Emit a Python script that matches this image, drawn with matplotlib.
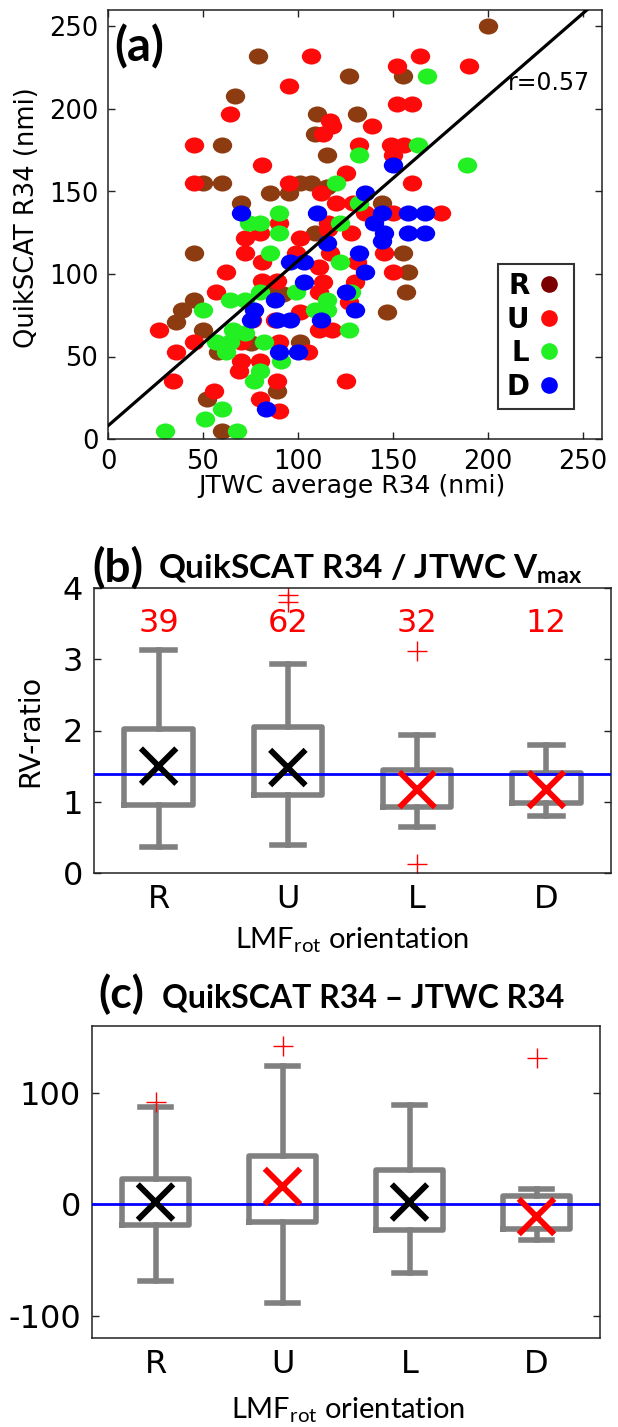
import matplotlib
matplotlib.use("Agg")
import matplotlib.pyplot as plt
from matplotlib.lines import Line2D
from matplotlib.path import Path
from matplotlib.transforms import Affine2D

plt.rcParams['font.family'] = ['DejaVu Sans']
plt.rcParams['axes.unicode_minus'] = False
plt.rcParams['mathtext.fontset'] = 'custom'
plt.rcParams['mathtext.rm'] = 'Lato'
plt.rcParams['mathtext.bf'] = 'Lato:bold'

# ---- panel (a) data: JTWC average R34 vs QuikSCAT R34 (nmi) ----
R_x = [200, 79, 127, 155, 67, 110, 131, 109, 60, 115, 50, 60, 85, 95, 101, 107, 70, 144, 109,
       45, 155, 158, 157, 45, 39, 36, 50, 147, 58, 101, 92, 89, 52, 60, 75, 115, 87]
R_y = [250, 232, 220, 220, 208, 197, 197, 185, 178, 172, 155, 155, 149, 149, 155, 155, 143, 143,
       125, 113, 113, 101, 89, 84, 78, 71, 66, 77, 53, 59, 88, 29, 24, 5, 58, 153, 92]
U_x = [107, 164, 190, 152, 95, 152, 160, 64, 117, 139, 118, 113, 45, 132, 149, 156, 150, 81, 125,
       160, 45, 95, 112, 120, 129, 135, 150, 175, 90, 116, 72, 72, 101, 116, 128, 80, 81, 99, 117,
       145, 62, 150, 111, 131, 57, 81, 89, 113, 130, 111, 127, 27, 45, 36, 34, 125, 70, 76, 88,
       101, 111, 118, 90, 105, 70, 80, 69, 89, 56, 80, 90]
U_y = [232, 232, 226, 226, 214, 203, 203, 197, 193, 190, 190, 185, 178, 178, 178, 178, 172, 166,
       161, 155, 155, 155, 149, 143, 143, 137, 137, 137, 131, 131, 122, 113, 122, 127, 125, 125,
       107, 113, 113, 113, 101, 101, 104, 107, 89, 96, 96, 95, 95, 89, 83, 66, 59, 53, 35, 35, 59,
       72, 72, 77, 66, 66, 59, 53, 47, 47, 41, 35, 29, 24, 17]
L_x = [168, 163, 189, 132, 120, 132, 90, 80, 74, 122, 90, 85, 122, 99, 80, 128, 64, 72, 50, 115,
       109, 115, 66, 72, 57, 64, 62, 82, 127, 91, 80, 77, 60, 51, 30, 68]
L_y = [220, 178, 166, 172, 155, 143, 137, 131, 131, 131, 125, 113, 107, 89, 89, 89, 84, 84, 78,
       84, 78, 78, 66, 64, 59, 59, 53, 59, 66, 47, 41, 35, 18, 12, 5, 5]
D_x = [150, 135, 70, 110, 144, 158, 167, 140, 145, 158, 167, 144, 115, 132, 96, 103, 103, 135,
       125, 88, 77, 130, 75, 89, 96, 112, 90, 100, 83]
D_y = [166, 149, 137, 137, 137, 137, 137, 131, 125, 125, 125, 120, 119, 113, 107, 107, 95, 101,
       89, 84, 78, 78, 72, 72, 72, 72, 53, 53, 18]
fit_slope = 1.0
fit_intercept = 8.0
r_value = 0.57

# ---- panels (b) and (c): box statistics by LMF_rot orientation ----
orient = ['R', 'U', 'L', 'D']
counts = [39, 62, 32, 12]

b_low = [0.37, 0.40, 0.65, 0.80]
b_q1 = [0.95, 1.09, 0.92, 0.98]
b_q3 = [2.02, 2.05, 1.45, 1.40]
b_high = [3.13, 2.93, 1.94, 1.79]
b_mark = [1.50, 1.48, 1.17, 1.17]
b_fliers = [[], [3.90, 3.81], [3.11, 0.12], []]
b_ref = 1.39

c_low = [-69, -89, -62, -32]
c_q1 = [-19, -16, -23, -22]
c_q3 = [23, 43, 31, 7]
c_high = [87, 124, 89, 14]
c_mark = [2, 16, 2, -11]
c_fliers = [[92], [142], [], [131]]
c_ref = 0

W, H = 618, 1427
fig = plt.figure(figsize=(W / 100, H / 100), dpi=100)


def rect(l, t, r, b):
    return [l / W, (H - b) / H, (r - l) / W, (b - t) / H]


brown = '#8c3c10'
red = '#ff0a0a'
green = '#22f022'
blue = '#0000ff'
gray = '#808080'
frame = '#222222'

ell = Path.unit_circle().transformed(Affine2D().scale(1.0, 0.83))

# ================= (a) =================
ax = fig.add_axes(rect(108, 10, 602, 439))
for xs, ys, c in [(R_x, R_y, brown), (U_x, U_y, red), (L_x, L_y, green), (D_x, D_y, blue)]:
    ax.scatter(xs, ys, s=195, marker=ell, color=c, linewidths=0, zorder=2)
lx = [0, 260]
ax.plot(lx, [fit_intercept + fit_slope * v for v in lx], color='black', lw=2.3, zorder=3)
ax.set_xlim(0, 260)
ax.set_ylim(0, 260)
ax.set_xticks(range(0, 251, 50))
ax.set_yticks(range(0, 251, 50))
ax.tick_params(direction='in', top=True, right=True, length=5, width=1, colors=frame,
               labelsize=18.5, labelcolor='black', pad=7)
for s in ax.spines.values():
    s.set_color(frame)
    s.set_linewidth(1.1)
ax.set_xlabel('JTWC average R34 (nmi)', fontsize=18, va='baseline')
ax.xaxis.set_label_coords(0.494, -0.126)
ax.set_ylabel('QuikSCAT R34 (nmi)', fontsize=18.5, va='center')
ax.yaxis.set_label_coords(-0.164, 0.517)
ax.text(0.012, 0.879, '(a)', transform=ax.transAxes, fontsize=34, fontweight='bold',
        family='Lato', va='baseline')
ax.text(0.81, 0.8135, 'r=%.2f' % r_value, transform=ax.transAxes, fontsize=17, va='baseline')
handles = [Line2D([], [], ls='none', marker='o', markersize=12, color=c, markeredgewidth=0)
           for c in ['#7a0000', red, green, blue]]
leg = ax.legend(handles, orient, loc='lower right', bbox_to_anchor=(0.943, 0.07),
                markerfirst=False, prop={'size': 20, 'weight': 'bold'}, frameon=True,
                fancybox=False, edgecolor='black', handlelength=1.2, handletextpad=0.1,
                borderpad=0.3, labelspacing=0.2, borderaxespad=0)
leg.get_frame().set_linewidth(1.5)


def box_panel(ax, low, q1, q3, high, mark, fliers, ref, mark_colors):
    pos = list(range(1, len(orient) + 1))
    stats = [dict(med=m, q1=a, q3=b, whislo=lo, whishi=hi, fliers=f)
             for lo, a, b, hi, m, f in zip(low, q1, q3, high, mark, fliers)]
    lp = dict(color=gray, linewidth=4.0)
    ax.bxp(stats, positions=pos, widths=0.53, capwidths=0.25, boxprops=lp, whiskerprops=lp,
           capprops=lp, medianprops=dict(linewidth=0),
           flierprops=dict(marker='+', markeredgecolor='red', markersize=15, markeredgewidth=1.0),
           manage_ticks=False, zorder=2)
    ax.axhline(ref, color=blue, lw=2.0, zorder=3)
    ax.scatter(pos, mark, marker='x', s=650, linewidths=4.2, c=mark_colors, zorder=4)
    ax.set_xlim(0.5, len(orient) + 0.5)
    ax.set_xticks(pos)
    ax.set_xticklabels(orient)
    ax.tick_params(axis='x', length=0, labelsize=23, pad=8)
    ax.tick_params(axis='y', direction='in', right=True, length=5, width=1, colors=frame,
                   labelcolor='black', labelsize=23, pad=8)
    for s in ax.spines.values():
        s.set_color(frame)
        s.set_linewidth(1.1)


# ================= (b) =================
bx = fig.add_axes(rect(94, 588, 611, 873))
box_panel(bx, b_low, b_q1, b_q3, b_high, b_mark, b_fliers, b_ref, ['k', 'k', 'r', 'r'])
bx.set_ylim(0, 4)
bx.set_yticks(range(0, 5))
for p, n in zip(range(1, 5), counts):
    bx.text(p, 3.5, str(n), color='red', fontsize=23, ha='center', va='center')
bx.set_ylabel('RV-ratio', fontsize=20.5, va='center')
bx.yaxis.set_label_coords(-0.124, 0.5)
bx.set_xlabel(r'LMF$_{\mathrm{rot}}$ orientation', family='Lato', fontsize=21, va='baseline')
bx.xaxis.set_label_coords(0.5, -0.263)
bx.text(-0.004, 1.021, '(b)', transform=bx.transAxes, fontsize=33, fontweight='bold',
        family='Lato', va='baseline')
bx.text(0.124, 1.035, r'QuikSCAT R34 / JTWC V$_{\mathbf{max}}$', transform=bx.transAxes,
        fontsize=24, fontweight='bold', family='Lato', va='baseline')

# ================= (c) =================
cx = fig.add_axes(rect(92, 1026, 600, 1338))
box_panel(cx, c_low, c_q1, c_q3, c_high, c_mark, c_fliers, c_ref, ['k', 'r', 'k', 'r'])
cx.set_ylim(-120, 160)
cx.set_yticks([-100, 0, 100])
cx.set_xlabel(r'LMF$_{\mathrm{rot}}$ orientation', family='Lato', fontsize=21, va='baseline')
cx.xaxis.set_label_coords(0.504, -0.256)
cx.text(0.012, 1.058, '(c)', transform=cx.transAxes, fontsize=32, fontweight='bold',
        family='Lato', va='baseline')
cx.text(0.138, 1.058, 'QuikSCAT R34 \u2013 JTWC R34', transform=cx.transAxes,
        fontsize=23, fontweight='bold', family='Lato', va='baseline')

fig.savefig('out.png', dpi=100)
